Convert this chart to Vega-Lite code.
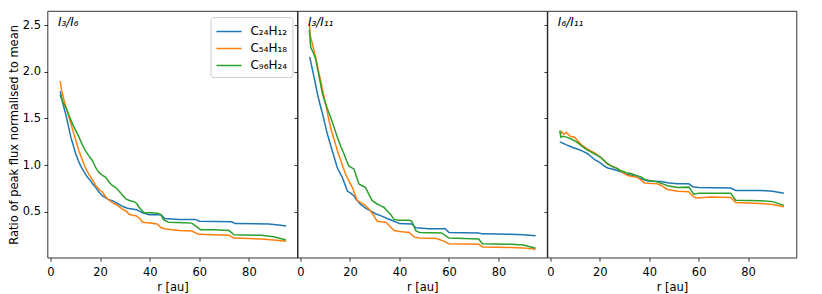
{
"$schema": "https://vega.github.io/schema/vega-lite/v6.json",
"background": "white",
"padding": {"left": 7.5, "top": 10, "right": 5, "bottom": 2},
"spacing": 0,
"bounds": "flush",
"resolve": {"legend": {"color": "independent"}, "scale": {"color": "independent"}},
"config": {
  "font": "DejaVu Sans",
  "view": {"stroke": "black", "strokeWidth": 0.8},
  "axis": {"domain": false, "grid": false, "tickColor": "black", "tickSize": 3.5, "tickWidth": 0.8, "labelColor": "black", "labelFontSize": 11.5, "labelFont": "DejaVu Sans", "titleFont": "DejaVu Sans", "titleFontSize": 11.5, "titleFontWeight": "normal", "titleColor": "black", "labelPadding": 3.5, "titlePadding": 3},
  "axisX": {"labelPadding": 5.5, "titlePadding": 3.5},
  "legend": {"title": null, "symbolType": "M-1.5,0H1.5", "symbolSize": 280, "symbolStrokeWidth": 1.5, "symbolOffset": 4, "labelFontSize": 12, "labelFont": "DejaVu Sans", "labelColor": "black", "labelOffset": 12, "fillColor": "white", "strokeColor": "#cccccc", "cornerRadius": 3, "padding": 5, "rowPadding": 1, "offset": 6}
},
"datasets": {"d": [
{"panel":"I3/I6","series":"C₂₄H₁₂","r":3.9,"v":1.79},{"panel":"I3/I6","series":"C₂₄H₁₂","r":5,"v":1.66},{"panel":"I3/I6","series":"C₂₄H₁₂","r":6.2,"v":1.54},{"panel":"I3/I6","series":"C₂₄H₁₂","r":7.2,"v":1.42},{"panel":"I3/I6","series":"C₂₄H₁₂","r":8.2,"v":1.30},{"panel":"I3/I6","series":"C₂₄H₁₂","r":9.2,"v":1.21},{"panel":"I3/I6","series":"C₂₄H₁₂","r":10.2,"v":1.12},{"panel":"I3/I6","series":"C₂₄H₁₂","r":11.2,"v":1.05},{"panel":"I3/I6","series":"C₂₄H₁₂","r":12.2,"v":0.99},{"panel":"I3/I6","series":"C₂₄H₁₂","r":13.5,"v":0.93},{"panel":"I3/I6","series":"C₂₄H₁₂","r":14.9,"v":0.87},{"panel":"I3/I6","series":"C₂₄H₁₂","r":16,"v":0.84},{"panel":"I3/I6","series":"C₂₄H₁₂","r":16.9,"v":0.80},{"panel":"I3/I6","series":"C₂₄H₁₂","r":18.3,"v":0.76},{"panel":"I3/I6","series":"C₂₄H₁₂","r":19.6,"v":0.71},{"panel":"I3/I6","series":"C₂₄H₁₂","r":21,"v":0.67},{"panel":"I3/I6","series":"C₂₄H₁₂","r":22.3,"v":0.65},{"panel":"I3/I6","series":"C₂₄H₁₂","r":23.5,"v":0.63},{"panel":"I3/I6","series":"C₂₄H₁₂","r":25,"v":0.62},{"panel":"I3/I6","series":"C₂₄H₁₂","r":27,"v":0.59},{"panel":"I3/I6","series":"C₂₄H₁₂","r":29,"v":0.56},{"panel":"I3/I6","series":"C₂₄H₁₂","r":31,"v":0.54},{"panel":"I3/I6","series":"C₂₄H₁₂","r":33,"v":0.53},{"panel":"I3/I6","series":"C₂₄H₁₂","r":35,"v":0.52},{"panel":"I3/I6","series":"C₂₄H₁₂","r":37.1,"v":0.49},{"panel":"I3/I6","series":"C₂₄H₁₂","r":39.8,"v":0.47},{"panel":"I3/I6","series":"C₂₄H₁₂","r":44.6,"v":0.47},{"panel":"I3/I6","series":"C₂₄H₁₂","r":46,"v":0.43},{"panel":"I3/I6","series":"C₂₄H₁₂","r":52,"v":0.42},{"panel":"I3/I6","series":"C₂₄H₁₂","r":58.5,"v":0.42},{"panel":"I3/I6","series":"C₂₄H₁₂","r":60,"v":0.40},{"panel":"I3/I6","series":"C₂₄H₁₂","r":73,"v":0.395},{"panel":"I3/I6","series":"C₂₄H₁₂","r":74.5,"v":0.375},{"panel":"I3/I6","series":"C₂₄H₁₂","r":88,"v":0.37},{"panel":"I3/I6","series":"C₂₄H₁₂","r":92,"v":0.36},{"panel":"I3/I6","series":"C₂₄H₁₂","r":95,"v":0.35},
{"panel":"I3/I6","series":"C₅₄H₁₈","r":3.9,"v":1.90},{"panel":"I3/I6","series":"C₅₄H₁₈","r":4.5,"v":1.80},{"panel":"I3/I6","series":"C₅₄H₁₈","r":5.5,"v":1.69},{"panel":"I3/I6","series":"C₅₄H₁₈","r":6.5,"v":1.60},{"panel":"I3/I6","series":"C₅₄H₁₈","r":7.5,"v":1.51},{"panel":"I3/I6","series":"C₅₄H₁₈","r":8.5,"v":1.42},{"panel":"I3/I6","series":"C₅₄H₁₈","r":9.5,"v":1.33},{"panel":"I3/I6","series":"C₅₄H₁₈","r":10.5,"v":1.24},{"panel":"I3/I6","series":"C₅₄H₁₈","r":11.5,"v":1.15},{"panel":"I3/I6","series":"C₅₄H₁₈","r":12.5,"v":1.08},{"panel":"I3/I6","series":"C₅₄H₁₈","r":13.5,"v":1.01},{"panel":"I3/I6","series":"C₅₄H₁₈","r":14.5,"v":0.95},{"panel":"I3/I6","series":"C₅₄H₁₈","r":15.6,"v":0.90},{"panel":"I3/I6","series":"C₅₄H₁₈","r":17,"v":0.84},{"panel":"I3/I6","series":"C₅₄H₁₈","r":18.3,"v":0.78},{"panel":"I3/I6","series":"C₅₄H₁₈","r":19.6,"v":0.74},{"panel":"I3/I6","series":"C₅₄H₁₈","r":21,"v":0.71},{"panel":"I3/I6","series":"C₅₄H₁₈","r":22,"v":0.67},{"panel":"I3/I6","series":"C₅₄H₁₈","r":23,"v":0.64},{"panel":"I3/I6","series":"C₅₄H₁₈","r":25,"v":0.60},{"panel":"I3/I6","series":"C₅₄H₁₈","r":27,"v":0.57},{"panel":"I3/I6","series":"C₅₄H₁₈","r":29,"v":0.53},{"panel":"I3/I6","series":"C₅₄H₁₈","r":30.5,"v":0.51},{"panel":"I3/I6","series":"C₅₄H₁₈","r":31.7,"v":0.475},{"panel":"I3/I6","series":"C₅₄H₁₈","r":33,"v":0.465},{"panel":"I3/I6","series":"C₅₄H₁₈","r":34.4,"v":0.46},{"panel":"I3/I6","series":"C₅₄H₁₈","r":36,"v":0.43},{"panel":"I3/I6","series":"C₅₄H₁₈","r":37.1,"v":0.39},{"panel":"I3/I6","series":"C₅₄H₁₈","r":40,"v":0.38},{"panel":"I3/I6","series":"C₅₄H₁₈","r":43,"v":0.37},{"panel":"I3/I6","series":"C₅₄H₁₈","r":44.6,"v":0.33},{"panel":"I3/I6","series":"C₅₄H₁₈","r":46,"v":0.32},{"panel":"I3/I6","series":"C₅₄H₁₈","r":49,"v":0.31},{"panel":"I3/I6","series":"C₅₄H₁₈","r":52,"v":0.30},{"panel":"I3/I6","series":"C₅₄H₁₈","r":57,"v":0.295},{"panel":"I3/I6","series":"C₅₄H₁₈","r":59.7,"v":0.26},{"panel":"I3/I6","series":"C₅₄H₁₈","r":66,"v":0.255},{"panel":"I3/I6","series":"C₅₄H₁₈","r":72,"v":0.25},{"panel":"I3/I6","series":"C₅₄H₁₈","r":74,"v":0.22},{"panel":"I3/I6","series":"C₅₄H₁₈","r":85,"v":0.21},{"panel":"I3/I6","series":"C₅₄H₁₈","r":90,"v":0.20},{"panel":"I3/I6","series":"C₅₄H₁₈","r":95,"v":0.185},
{"panel":"I3/I6","series":"C₉₆H₂₄","r":3.9,"v":1.75},{"panel":"I3/I6","series":"C₉₆H₂₄","r":4.3,"v":1.72},{"panel":"I3/I6","series":"C₉₆H₂₄","r":5.2,"v":1.66},{"panel":"I3/I6","series":"C₉₆H₂₄","r":6.2,"v":1.62},{"panel":"I3/I6","series":"C₉₆H₂₄","r":7.5,"v":1.53},{"panel":"I3/I6","series":"C₉₆H₂₄","r":8.9,"v":1.44},{"panel":"I3/I6","series":"C₉₆H₂₄","r":10.2,"v":1.37},{"panel":"I3/I6","series":"C₉₆H₂₄","r":11.5,"v":1.30},{"panel":"I3/I6","series":"C₉₆H₂₄","r":12.8,"v":1.22},{"panel":"I3/I6","series":"C₉₆H₂₄","r":14.2,"v":1.15},{"panel":"I3/I6","series":"C₉₆H₂₄","r":15.5,"v":1.10},{"panel":"I3/I6","series":"C₉₆H₂₄","r":16.9,"v":1.05},{"panel":"I3/I6","series":"C₉₆H₂₄","r":18.3,"v":0.97},{"panel":"I3/I6","series":"C₉₆H₂₄","r":19.6,"v":0.92},{"panel":"I3/I6","series":"C₉₆H₂₄","r":21,"v":0.89},{"panel":"I3/I6","series":"C₉₆H₂₄","r":22.3,"v":0.87},{"panel":"I3/I6","series":"C₉₆H₂₄","r":23.6,"v":0.82},{"panel":"I3/I6","series":"C₉₆H₂₄","r":25,"v":0.78},{"panel":"I3/I6","series":"C₉₆H₂₄","r":26.3,"v":0.76},{"panel":"I3/I6","series":"C₉₆H₂₄","r":27.7,"v":0.72},{"panel":"I3/I6","series":"C₉₆H₂₄","r":29,"v":0.68},{"panel":"I3/I6","series":"C₉₆H₂₄","r":30.4,"v":0.64},{"panel":"I3/I6","series":"C₉₆H₂₄","r":32,"v":0.62},{"panel":"I3/I6","series":"C₉₆H₂₄","r":33.7,"v":0.61},{"panel":"I3/I6","series":"C₉₆H₂₄","r":34.8,"v":0.59},{"panel":"I3/I6","series":"C₉₆H₂₄","r":35.7,"v":0.55},{"panel":"I3/I6","series":"C₉₆H₂₄","r":37.7,"v":0.49},{"panel":"I3/I6","series":"C₉₆H₂₄","r":40,"v":0.49},{"panel":"I3/I6","series":"C₉₆H₂₄","r":43,"v":0.485},{"panel":"I3/I6","series":"C₉₆H₂₄","r":44.5,"v":0.47},{"panel":"I3/I6","series":"C₉₆H₂₄","r":45.5,"v":0.42},{"panel":"I3/I6","series":"C₉₆H₂₄","r":47.5,"v":0.39},{"panel":"I3/I6","series":"C₉₆H₂₄","r":54,"v":0.385},{"panel":"I3/I6","series":"C₉₆H₂₄","r":57,"v":0.38},{"panel":"I3/I6","series":"C₉₆H₂₄","r":59.5,"v":0.33},{"panel":"I3/I6","series":"C₉₆H₂₄","r":60.5,"v":0.31},{"panel":"I3/I6","series":"C₉₆H₂₄","r":66,"v":0.31},{"panel":"I3/I6","series":"C₉₆H₂₄","r":72,"v":0.30},{"panel":"I3/I6","series":"C₉₆H₂₄","r":74,"v":0.255},{"panel":"I3/I6","series":"C₉₆H₂₄","r":85,"v":0.25},{"panel":"I3/I6","series":"C₉₆H₂₄","r":90,"v":0.235},{"panel":"I3/I6","series":"C₉₆H₂₄","r":95,"v":0.20},
{"panel":"I3/I11","series":"C₂₄H₁₂","r":3.75,"v":2.16},{"panel":"I3/I11","series":"C₂₄H₁₂","r":4.6,"v":2.05},{"panel":"I3/I11","series":"C₂₄H₁₂","r":5.5,"v":1.94},{"panel":"I3/I11","series":"C₂₄H₁₂","r":6.2,"v":1.85},{"panel":"I3/I11","series":"C₂₄H₁₂","r":6.9,"v":1.76},{"panel":"I3/I11","series":"C₂₄H₁₂","r":7.9,"v":1.65},{"panel":"I3/I11","series":"C₂₄H₁₂","r":8.9,"v":1.55},{"panel":"I3/I11","series":"C₂₄H₁₂","r":9.9,"v":1.44},{"panel":"I3/I11","series":"C₂₄H₁₂","r":10.9,"v":1.33},{"panel":"I3/I11","series":"C₂₄H₁₂","r":11.9,"v":1.24},{"panel":"I3/I11","series":"C₂₄H₁₂","r":12.9,"v":1.15},{"panel":"I3/I11","series":"C₂₄H₁₂","r":13.9,"v":1.06},{"panel":"I3/I11","series":"C₂₄H₁₂","r":14.9,"v":0.97},{"panel":"I3/I11","series":"C₂₄H₁₂","r":15.9,"v":0.92},{"panel":"I3/I11","series":"C₂₄H₁₂","r":16.9,"v":0.87},{"panel":"I3/I11","series":"C₂₄H₁₂","r":18,"v":0.79},{"panel":"I3/I11","series":"C₂₄H₁₂","r":19,"v":0.72},{"panel":"I3/I11","series":"C₂₄H₁₂","r":20.3,"v":0.70},{"panel":"I3/I11","series":"C₂₄H₁₂","r":21.6,"v":0.67},{"panel":"I3/I11","series":"C₂₄H₁₂","r":23,"v":0.62},{"panel":"I3/I11","series":"C₂₄H₁₂","r":24.3,"v":0.58},{"panel":"I3/I11","series":"C₂₄H₁₂","r":26.3,"v":0.54},{"panel":"I3/I11","series":"C₂₄H₁₂","r":28.3,"v":0.51},{"panel":"I3/I11","series":"C₂₄H₁₂","r":30.3,"v":0.48},{"panel":"I3/I11","series":"C₂₄H₁₂","r":32.4,"v":0.46},{"panel":"I3/I11","series":"C₂₄H₁₂","r":35,"v":0.43},{"panel":"I3/I11","series":"C₂₄H₁₂","r":37.8,"v":0.40},{"panel":"I3/I11","series":"C₂₄H₁₂","r":40,"v":0.375},{"panel":"I3/I11","series":"C₂₄H₁₂","r":45,"v":0.37},{"panel":"I3/I11","series":"C₂₄H₁₂","r":46.6,"v":0.33},{"panel":"I3/I11","series":"C₂₄H₁₂","r":52,"v":0.32},{"panel":"I3/I11","series":"C₂₄H₁₂","r":58.5,"v":0.32},{"panel":"I3/I11","series":"C₂₄H₁₂","r":60,"v":0.28},{"panel":"I3/I11","series":"C₂₄H₁₂","r":72,"v":0.275},{"panel":"I3/I11","series":"C₂₄H₁₂","r":73.5,"v":0.265},{"panel":"I3/I11","series":"C₂₄H₁₂","r":85,"v":0.26},{"panel":"I3/I11","series":"C₂₄H₁₂","r":90,"v":0.255},{"panel":"I3/I11","series":"C₂₄H₁₂","r":95,"v":0.245},
{"panel":"I3/I11","series":"C₅₄H₁₈","r":3.6,"v":2.51},{"panel":"I3/I11","series":"C₅₄H₁₈","r":4,"v":2.38},{"panel":"I3/I11","series":"C₅₄H₁₈","r":4.8,"v":2.30},{"panel":"I3/I11","series":"C₅₄H₁₈","r":5.5,"v":2.22},{"panel":"I3/I11","series":"C₅₄H₁₈","r":6.2,"v":2.15},{"panel":"I3/I11","series":"C₅₄H₁₈","r":7.2,"v":2.02},{"panel":"I3/I11","series":"C₅₄H₁₈","r":8.2,"v":1.90},{"panel":"I3/I11","series":"C₅₄H₁₈","r":9.2,"v":1.77},{"panel":"I3/I11","series":"C₅₄H₁₈","r":10.2,"v":1.65},{"panel":"I3/I11","series":"C₅₄H₁₈","r":11.2,"v":1.52},{"panel":"I3/I11","series":"C₅₄H₁₈","r":12.2,"v":1.40},{"panel":"I3/I11","series":"C₅₄H₁₈","r":13.2,"v":1.31},{"panel":"I3/I11","series":"C₅₄H₁₈","r":14.2,"v":1.22},{"panel":"I3/I11","series":"C₅₄H₁₈","r":15.2,"v":1.13},{"panel":"I3/I11","series":"C₅₄H₁₈","r":16.3,"v":1.05},{"panel":"I3/I11","series":"C₅₄H₁₈","r":17.3,"v":0.97},{"panel":"I3/I11","series":"C₅₄H₁₈","r":18.3,"v":0.90},{"panel":"I3/I11","series":"C₅₄H₁₈","r":19.6,"v":0.83},{"panel":"I3/I11","series":"C₅₄H₁₈","r":21,"v":0.76},{"panel":"I3/I11","series":"C₅₄H₁₈","r":22,"v":0.69},{"panel":"I3/I11","series":"C₅₄H₁₈","r":23,"v":0.62},{"panel":"I3/I11","series":"C₅₄H₁₈","r":24.3,"v":0.60},{"panel":"I3/I11","series":"C₅₄H₁₈","r":25.7,"v":0.58},{"panel":"I3/I11","series":"C₅₄H₁₈","r":27,"v":0.55},{"panel":"I3/I11","series":"C₅₄H₁₈","r":28.3,"v":0.51},{"panel":"I3/I11","series":"C₅₄H₁₈","r":29.6,"v":0.46},{"panel":"I3/I11","series":"C₅₄H₁₈","r":31,"v":0.40},{"panel":"I3/I11","series":"C₅₄H₁₈","r":32.5,"v":0.395},{"panel":"I3/I11","series":"C₅₄H₁₈","r":34.4,"v":0.39},{"panel":"I3/I11","series":"C₅₄H₁₈","r":36,"v":0.35},{"panel":"I3/I11","series":"C₅₄H₁₈","r":37.8,"v":0.30},{"panel":"I3/I11","series":"C₅₄H₁₈","r":40,"v":0.29},{"panel":"I3/I11","series":"C₅₄H₁₈","r":44,"v":0.28},{"panel":"I3/I11","series":"C₅₄H₁₈","r":46,"v":0.23},{"panel":"I3/I11","series":"C₅₄H₁₈","r":48,"v":0.22},{"panel":"I3/I11","series":"C₅₄H₁₈","r":55,"v":0.215},{"panel":"I3/I11","series":"C₅₄H₁₈","r":57.6,"v":0.19},{"panel":"I3/I11","series":"C₅₄H₁₈","r":60,"v":0.16},{"panel":"I3/I11","series":"C₅₄H₁₈","r":72,"v":0.155},{"panel":"I3/I11","series":"C₅₄H₁₈","r":73.5,"v":0.125},{"panel":"I3/I11","series":"C₅₄H₁₈","r":85,"v":0.12},{"panel":"I3/I11","series":"C₅₄H₁₈","r":90,"v":0.115},{"panel":"I3/I11","series":"C₅₄H₁₈","r":95,"v":0.1},
{"panel":"I3/I11","series":"C₉₆H₂₄","r":3.6,"v":2.45},{"panel":"I3/I11","series":"C₉₆H₂₄","r":4,"v":2.30},{"panel":"I3/I11","series":"C₉₆H₂₄","r":4.2,"v":2.26},{"panel":"I3/I11","series":"C₉₆H₂₄","r":5.2,"v":2.20},{"panel":"I3/I11","series":"C₉₆H₂₄","r":6.2,"v":2.13},{"panel":"I3/I11","series":"C₉₆H₂₄","r":7.5,"v":1.95},{"panel":"I3/I11","series":"C₉₆H₂₄","r":8.9,"v":1.76},{"panel":"I3/I11","series":"C₉₆H₂₄","r":10.5,"v":1.63},{"panel":"I3/I11","series":"C₉₆H₂₄","r":12.2,"v":1.51},{"panel":"I3/I11","series":"C₉₆H₂₄","r":13.5,"v":1.41},{"panel":"I3/I11","series":"C₉₆H₂₄","r":14.9,"v":1.30},{"panel":"I3/I11","series":"C₉₆H₂₄","r":16.3,"v":1.20},{"panel":"I3/I11","series":"C₉₆H₂₄","r":17.6,"v":1.12},{"panel":"I3/I11","series":"C₉₆H₂₄","r":18.6,"v":1.05},{"panel":"I3/I11","series":"C₉₆H₂₄","r":19.6,"v":0.99},{"panel":"I3/I11","series":"C₉₆H₂₄","r":21.6,"v":0.96},{"panel":"I3/I11","series":"C₉₆H₂₄","r":22.6,"v":0.88},{"panel":"I3/I11","series":"C₉₆H₂₄","r":23.6,"v":0.80},{"panel":"I3/I11","series":"C₉₆H₂₄","r":25,"v":0.78},{"panel":"I3/I11","series":"C₉₆H₂₄","r":26.3,"v":0.76},{"panel":"I3/I11","series":"C₉₆H₂₄","r":27.6,"v":0.69},{"panel":"I3/I11","series":"C₉₆H₂₄","r":29,"v":0.62},{"panel":"I3/I11","series":"C₉₆H₂₄","r":30.7,"v":0.59},{"panel":"I3/I11","series":"C₉₆H₂₄","r":32.4,"v":0.565},{"panel":"I3/I11","series":"C₉₆H₂₄","r":33.7,"v":0.55},{"panel":"I3/I11","series":"C₉₆H₂₄","r":35.1,"v":0.51},{"panel":"I3/I11","series":"C₉₆H₂₄","r":36.5,"v":0.47},{"panel":"I3/I11","series":"C₉₆H₂₄","r":37.8,"v":0.42},{"panel":"I3/I11","series":"C₉₆H₂₄","r":40,"v":0.41},{"panel":"I3/I11","series":"C₉₆H₂₄","r":44,"v":0.41},{"panel":"I3/I11","series":"C₉₆H₂₄","r":45,"v":0.40},{"panel":"I3/I11","series":"C₉₆H₂₄","r":46.6,"v":0.30},{"panel":"I3/I11","series":"C₉₆H₂₄","r":48,"v":0.28},{"panel":"I3/I11","series":"C₉₆H₂₄","r":57,"v":0.275},{"panel":"I3/I11","series":"C₉₆H₂₄","r":60,"v":0.22},{"panel":"I3/I11","series":"C₉₆H₂₄","r":72,"v":0.21},{"panel":"I3/I11","series":"C₉₆H₂₄","r":73.5,"v":0.16},{"panel":"I3/I11","series":"C₉₆H₂₄","r":85,"v":0.155},{"panel":"I3/I11","series":"C₉₆H₂₄","r":90,"v":0.145},{"panel":"I3/I11","series":"C₉₆H₂₄","r":95,"v":0.11},
{"panel":"I6/I11","series":"C₂₄H₁₂","r":3.75,"v":1.25},{"panel":"I6/I11","series":"C₂₄H₁₂","r":5.5,"v":1.23},{"panel":"I6/I11","series":"C₂₄H₁₂","r":7.1,"v":1.21},{"panel":"I6/I11","series":"C₂₄H₁₂","r":9,"v":1.19},{"panel":"I6/I11","series":"C₂₄H₁₂","r":11.1,"v":1.17},{"panel":"I6/I11","series":"C₂₄H₁₂","r":13,"v":1.15},{"panel":"I6/I11","series":"C₂₄H₁₂","r":15.2,"v":1.12},{"panel":"I6/I11","series":"C₂₄H₁₂","r":16.5,"v":1.09},{"panel":"I6/I11","series":"C₂₄H₁₂","r":17.9,"v":1.06},{"panel":"I6/I11","series":"C₂₄H₁₂","r":19.2,"v":1.04},{"panel":"I6/I11","series":"C₂₄H₁₂","r":20.5,"v":1.02},{"panel":"I6/I11","series":"C₂₄H₁₂","r":21.8,"v":0.99},{"panel":"I6/I11","series":"C₂₄H₁₂","r":23.2,"v":0.97},{"panel":"I6/I11","series":"C₂₄H₁₂","r":25,"v":0.96},{"panel":"I6/I11","series":"C₂₄H₁₂","r":27.3,"v":0.94},{"panel":"I6/I11","series":"C₂₄H₁₂","r":29.3,"v":0.92},{"panel":"I6/I11","series":"C₂₄H₁₂","r":31.3,"v":0.90},{"panel":"I6/I11","series":"C₂₄H₁₂","r":33.3,"v":0.89},{"panel":"I6/I11","series":"C₂₄H₁₂","r":35.3,"v":0.87},{"panel":"I6/I11","series":"C₂₄H₁₂","r":37.3,"v":0.85},{"panel":"I6/I11","series":"C₂₄H₁₂","r":39.4,"v":0.83},{"panel":"I6/I11","series":"C₂₄H₁₂","r":44.7,"v":0.825},{"panel":"I6/I11","series":"C₂₄H₁₂","r":48,"v":0.81},{"panel":"I6/I11","series":"C₂₄H₁₂","r":51.5,"v":0.80},{"panel":"I6/I11","series":"C₂₄H₁₂","r":56,"v":0.80},{"panel":"I6/I11","series":"C₂₄H₁₂","r":57.6,"v":0.77},{"panel":"I6/I11","series":"C₂₄H₁₂","r":60,"v":0.76},{"panel":"I6/I11","series":"C₂₄H₁₂","r":73,"v":0.755},{"panel":"I6/I11","series":"C₂₄H₁₂","r":75,"v":0.73},{"panel":"I6/I11","series":"C₂₄H₁₂","r":85,"v":0.73},{"panel":"I6/I11","series":"C₂₄H₁₂","r":90,"v":0.72},{"panel":"I6/I11","series":"C₂₄H₁₂","r":94.5,"v":0.70},
{"panel":"I6/I11","series":"C₅₄H₁₈","r":4.2,"v":1.33},{"panel":"I6/I11","series":"C₅₄H₁₈","r":4.4,"v":1.36},{"panel":"I6/I11","series":"C₅₄H₁₈","r":5.5,"v":1.33},{"panel":"I6/I11","series":"C₅₄H₁₈","r":6.4,"v":1.35},{"panel":"I6/I11","series":"C₅₄H₁₈","r":8,"v":1.31},{"panel":"I6/I11","series":"C₅₄H₁₈","r":9.8,"v":1.30},{"panel":"I6/I11","series":"C₅₄H₁₈","r":11,"v":1.26},{"panel":"I6/I11","series":"C₅₄H₁₈","r":12.5,"v":1.22},{"panel":"I6/I11","series":"C₅₄H₁₈","r":14.5,"v":1.18},{"panel":"I6/I11","series":"C₅₄H₁₈","r":16.5,"v":1.15},{"panel":"I6/I11","series":"C₅₄H₁₈","r":18.5,"v":1.12},{"panel":"I6/I11","series":"C₅₄H₁₈","r":20.5,"v":1.08},{"panel":"I6/I11","series":"C₅₄H₁₈","r":22,"v":1.04},{"panel":"I6/I11","series":"C₅₄H₁₈","r":23.2,"v":1.01},{"panel":"I6/I11","series":"C₅₄H₁₈","r":25,"v":0.99},{"panel":"I6/I11","series":"C₅₄H₁₈","r":27.3,"v":0.96},{"panel":"I6/I11","series":"C₅₄H₁₈","r":29.3,"v":0.92},{"panel":"I6/I11","series":"C₅₄H₁₈","r":31.3,"v":0.89},{"panel":"I6/I11","series":"C₅₄H₁₈","r":33.3,"v":0.88},{"panel":"I6/I11","series":"C₅₄H₁₈","r":35.3,"v":0.87},{"panel":"I6/I11","series":"C₅₄H₁₈","r":36.7,"v":0.84},{"panel":"I6/I11","series":"C₅₄H₁₈","r":38,"v":0.81},{"panel":"I6/I11","series":"C₅₄H₁₈","r":43.4,"v":0.80},{"panel":"I6/I11","series":"C₅₄H₁₈","r":45,"v":0.78},{"panel":"I6/I11","series":"C₅₄H₁₈","r":47.4,"v":0.74},{"panel":"I6/I11","series":"C₅₄H₁₈","r":51.5,"v":0.72},{"panel":"I6/I11","series":"C₅₄H₁₈","r":56,"v":0.715},{"panel":"I6/I11","series":"C₅₄H₁₈","r":57.5,"v":0.67},{"panel":"I6/I11","series":"C₅₄H₁₈","r":58.9,"v":0.65},{"panel":"I6/I11","series":"C₅₄H₁₈","r":65,"v":0.66},{"panel":"I6/I11","series":"C₅₄H₁₈","r":73,"v":0.655},{"panel":"I6/I11","series":"C₅₄H₁₈","r":75,"v":0.60},{"panel":"I6/I11","series":"C₅₄H₁₈","r":85,"v":0.59},{"panel":"I6/I11","series":"C₅₄H₁₈","r":90,"v":0.58},{"panel":"I6/I11","series":"C₅₄H₁₈","r":94.5,"v":0.555},
{"panel":"I6/I11","series":"C₉₆H₂₄","r":3.75,"v":1.37},{"panel":"I6/I11","series":"C₉₆H₂₄","r":4.2,"v":1.30},{"panel":"I6/I11","series":"C₉₆H₂₄","r":5,"v":1.31},{"panel":"I6/I11","series":"C₉₆H₂₄","r":6.5,"v":1.30},{"panel":"I6/I11","series":"C₉₆H₂₄","r":8.4,"v":1.28},{"panel":"I6/I11","series":"C₉₆H₂₄","r":10.5,"v":1.25},{"panel":"I6/I11","series":"C₉₆H₂₄","r":12.5,"v":1.21},{"panel":"I6/I11","series":"C₉₆H₂₄","r":14.5,"v":1.17},{"panel":"I6/I11","series":"C₉₆H₂₄","r":16.5,"v":1.14},{"panel":"I6/I11","series":"C₉₆H₂₄","r":18.5,"v":1.11},{"panel":"I6/I11","series":"C₉₆H₂₄","r":20.5,"v":1.08},{"panel":"I6/I11","series":"C₉₆H₂₄","r":22.5,"v":1.03},{"panel":"I6/I11","series":"C₉₆H₂₄","r":24.6,"v":0.99},{"panel":"I6/I11","series":"C₉₆H₂₄","r":26.6,"v":0.97},{"panel":"I6/I11","series":"C₉₆H₂₄","r":28.6,"v":0.94},{"panel":"I6/I11","series":"C₉₆H₂₄","r":30.6,"v":0.92},{"panel":"I6/I11","series":"C₉₆H₂₄","r":32.6,"v":0.91},{"panel":"I6/I11","series":"C₉₆H₂₄","r":34.6,"v":0.89},{"panel":"I6/I11","series":"C₉₆H₂₄","r":36.7,"v":0.875},{"panel":"I6/I11","series":"C₉₆H₂₄","r":38,"v":0.85},{"panel":"I6/I11","series":"C₉₆H₂₄","r":39.4,"v":0.84},{"panel":"I6/I11","series":"C₉₆H₂₄","r":43.4,"v":0.82},{"panel":"I6/I11","series":"C₉₆H₂₄","r":45.5,"v":0.80},{"panel":"I6/I11","series":"C₉₆H₂₄","r":47.4,"v":0.78},{"panel":"I6/I11","series":"C₉₆H₂₄","r":51.5,"v":0.76},{"panel":"I6/I11","series":"C₉₆H₂₄","r":56,"v":0.765},{"panel":"I6/I11","series":"C₉₆H₂₄","r":58,"v":0.69},{"panel":"I6/I11","series":"C₉₆H₂₄","r":60,"v":0.70},{"panel":"I6/I11","series":"C₉₆H₂₄","r":73,"v":0.70},{"panel":"I6/I11","series":"C₉₆H₂₄","r":75,"v":0.625},{"panel":"I6/I11","series":"C₉₆H₂₄","r":85,"v":0.62},{"panel":"I6/I11","series":"C₉₆H₂₄","r":90,"v":0.61},{"panel":"I6/I11","series":"C₉₆H₂₄","r":94.5,"v":0.57}
]},
"hconcat": [
 {"width": 250, "height": 246.7, "layer": [
  {"data": {"name": "d"}, "transform": [{"filter": "datum.panel === 'I3/I6'"}],
   "mark": {"type": "line", "strokeWidth": 1.5, "clip": true},
   "encoding": {
    "x": {"field": "r", "type": "quantitative", "scale": {"domain": [-1.2, 99.6], "nice": false, "zero": false}, "axis": {"values": [0, 20, 40, 60, 80], "title": "r [au]"}},
    "y": {"field": "v", "type": "quantitative", "scale": {"domain": [0.01, 2.65], "nice": false, "zero": false}, "axis": {"values": [0.5, 1, 1.5, 2, 2.5], "format": ".1f", "title": "Ratio of peak flux normalised to mean"}},
    "color": {"field": "series", "type": "nominal", "scale": {"domain": ["C₂₄H₁₂", "C₅₄H₁₈", "C₉₆H₂₄"], "range": ["#1f77b4", "#ff7f0e", "#2ca02c"]}, "legend": {"orient": "top-right", "offset": 5.5}}
   }},
  {"data": {"values": [{}]}, "mark": {"type": "text", "align": "left", "baseline": "alphabetic", "fontSize": 12, "fontStyle": "italic", "font": "DejaVu Sans", "color": "black"},
   "encoding": {"x": {"datum": 3}, "y": {"datum": 2.49}, "text": {"value": "I₃/I₆"}}}
 ]},
 {"width": 249.5, "height": 246.7, "layer": [
  {"data": {"name": "d"}, "transform": [{"filter": "datum.panel === 'I3/I11'"}],
   "mark": {"type": "line", "strokeWidth": 1.5, "clip": true},
   "encoding": {
    "x": {"field": "r", "type": "quantitative", "scale": {"domain": [-1.2, 99.6], "nice": false, "zero": false}, "axis": {"values": [0, 20, 40, 60, 80], "title": "r [au]"}},
    "y": {"field": "v", "type": "quantitative", "scale": {"domain": [0.01, 2.65], "nice": false, "zero": false}, "axis": {"values": [0.5, 1, 1.5, 2, 2.5], "labels": false, "title": null}},
    "color": {"field": "series", "type": "nominal", "scale": {"domain": ["C₂₄H₁₂", "C₅₄H₁₈", "C₉₆H₂₄"], "range": ["#1f77b4", "#ff7f0e", "#2ca02c"]}, "legend": null}
   }},
  {"data": {"values": [{}]}, "mark": {"type": "text", "align": "left", "baseline": "alphabetic", "fontSize": 12, "fontStyle": "italic", "font": "DejaVu Sans", "color": "black"},
   "encoding": {"x": {"datum": 3}, "y": {"datum": 2.49}, "text": {"value": "I₃/I₁₁"}}}
 ]},
 {"width": 249, "height": 246.7, "layer": [
  {"data": {"name": "d"}, "transform": [{"filter": "datum.panel === 'I6/I11'"}],
   "mark": {"type": "line", "strokeWidth": 1.5, "clip": true},
   "encoding": {
    "x": {"field": "r", "type": "quantitative", "scale": {"domain": [-1.2, 99.6], "nice": false, "zero": false}, "axis": {"values": [0, 20, 40, 60, 80], "title": "r [au]"}},
    "y": {"field": "v", "type": "quantitative", "scale": {"domain": [0.01, 2.65], "nice": false, "zero": false}, "axis": {"values": [0.5, 1, 1.5, 2, 2.5], "labels": false, "title": null}},
    "color": {"field": "series", "type": "nominal", "scale": {"domain": ["C₂₄H₁₂", "C₅₄H₁₈", "C₉₆H₂₄"], "range": ["#1f77b4", "#ff7f0e", "#2ca02c"]}, "legend": null}
   }},
  {"data": {"values": [{}]}, "mark": {"type": "text", "align": "left", "baseline": "alphabetic", "fontSize": 12, "fontStyle": "italic", "font": "DejaVu Sans", "color": "black"},
   "encoding": {"x": {"datum": 3}, "y": {"datum": 2.49}, "text": {"value": "I₆/I₁₁"}}}
 ]}
]
}
